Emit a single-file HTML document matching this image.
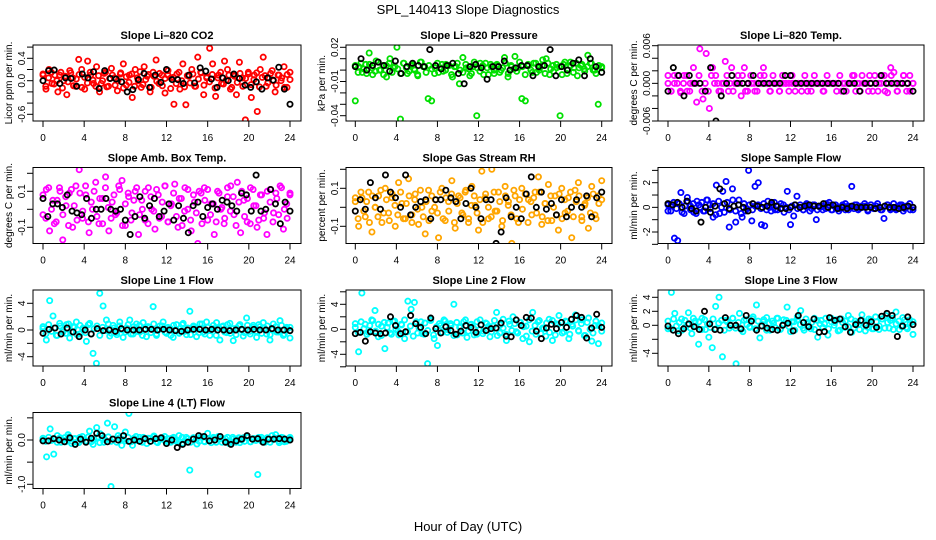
<!DOCTYPE html>
<html><head><meta charset="utf-8">
<style>
html,body{margin:0;padding:0;background:#fff;}
svg{display:block;font-family:"Liberation Sans",sans-serif;}
</style></head>
<body>
<svg id="chart" width="936" height="540" viewBox="0 0 936 540" xmlns="http://www.w3.org/2000/svg">
<text x="468" y="14" text-anchor="middle" font-size="13">SPL_140413  Slope Diagnostics</text>
<text x="468" y="531" text-anchor="middle" font-size="13">Hour of Day (UTC)</text>
</svg>
<script>
const xTicks = [0,4,8,12,16,20,24];
const co2Vals = [0.1,-0.15,0.2,-0.05,0.1,-0.2,0.15,0.0,-0.25,0.18,0.05,-0.1,0.38,0.2,-0.15,0.35,0.1,-0.05,0.25,-0.2,0.0,0.15,-0.1,0.22,0.05,-0.18,0.12,0.3,-0.08,0.1,-0.3,0.2,0.0,-0.12,0.25,0.08,-0.2,0.15,0.37,-0.05,0.1,-0.22,0.18,0.05,-0.42,0.12,-0.15,0.3,-0.43,0.08,0.2,-0.1,0.42,0.15,-0.25,0.05,0.58,0.3,-0.28,0.1,-0.05,0.35,0.2,-0.15,0.1,-0.25,0.33,0.05,-0.7,0.15,-0.3,0.1,-0.55,0.2,0.42,-0.1,0.05,0.18,-0.2,0.1,0.0,0.25,-0.12,0.15];
const co2Core = [0.12,-0.1,0.05,0.15,-0.06,0.0,0.1,-0.13,0.08,-0.02,0.14,-0.09,0.03,0.11,-0.12,0.06,-0.04,0.15,0.01,-0.1,0.09,-0.05,0.13,-0.11,0.04,0.1,-0.08,0.0,0.14,-0.13,0.07,-0.03,0.12,-0.1,0.05,0.16,-0.07,0.02,0.11,-0.12,0.08,-0.01,0.13,-0.09,0.04,0.1,-0.14,0.06,-0.05,0.15,0.0,-0.11,0.09,-0.04,0.12,-0.1,0.03,0.14,-0.08,0.07,-0.02,0.11,-0.13,0.05,0.15,-0.06,0.01,0.1,-0.12,0.08,-0.03,0.13,-0.1,0.04,0.12,-0.07,0.02,0.14,-0.11,0.06,0.09,-0.04,0.13,0.0,-0.08,0.1,0.05,-0.12,0.11,0.02];
const co2Ref = [0.0,0.18,0.19,-0.05,0.05,0.04,-0.1,0.12,0.05,0.16,-0.14,0.18,0.04,0.03,-0.02,-0.2,-0.16,0.02,0.13,-0.12,0.1,-0.03,0.2,0.02,0.02,-0.05,0.1,-0.04,0.23,0.17,0.03,-0.12,0.05,0.0,0.12,0.04,-0.08,-0.12,-0.02,-0.15,0.05,0.01,0.24,-0.15,-0.42];
const presVals = [-0.027,0.003,-0.002,0.005,0.015,-0.004,0.008,0.0,0.004,-0.006,0.01,0.002,0.02,-0.043,0.006,-0.003,0.004,0.001,-0.005,0.007,0.003,-0.025,-0.027,0.002,-0.002,0.005,0.0,0.004,-0.006,0.003,-0.012,0.011,0.002,-0.005,0.003,-0.04,0.006,-0.004,0.002,0.005,-0.003,0.004,0.0,0.011,-0.006,0.003,0.012,0.002,-0.025,-0.027,0.004,-0.002,0.006,0.0,0.009,0.01,-0.004,0.004,0.002,-0.04,0.005,-0.003,0.007,0.002,-0.005,0.004,0.001,0.013,0.006,0.0,-0.03,0.003];
const presCore = [0.004,-0.002,0.006,0.001,-0.003,0.005,0.002,-0.001,0.007,0.0,-0.004,0.004,0.006,-0.002,0.003,0.001,-0.003,0.006,0.002,-0.001,0.005,0.0,-0.004,0.007,0.003,-0.002,0.004,0.001,-0.003,0.006,0.002,-0.001,0.005,0.004,-0.004,0.003,0.006,0.0,-0.002,0.005,0.001,-0.003,0.007,0.002,-0.001,0.004,0.006,-0.004,0.003,0.0,0.005,-0.002,0.002,0.006,-0.003,0.004,0.001,-0.001,0.007,0.003,-0.004,0.005,0.0,0.006,-0.002,0.002,0.004,-0.003,0.006,0.001,-0.001,0.005,0.003,-0.004,0.007,0.0,0.004,-0.002,0.006,0.002,0.005,-0.001,0.003,0.006,0.0,-0.003,0.004,0.002];
const presRef = [0.003,0.01,0.0,0.004,0.007,0.004,-0.001,0.008,-0.003,0.003,0.006,0.004,0.003,0.018,0.004,0.001,0.004,0.006,-0.003,-0.012,0.003,0.005,0.002,-0.008,0.003,0.003,0.008,0.0,0.002,0.004,0.004,-0.005,0.003,0.004,0.018,-0.005,0.003,0.0,0.006,0.009,-0.005,0.01,0.003,-0.002];
const tempVals = [0.00125,-0.00125,0.0,0.00125,-0.0015,0.00125,-0.00125,0.0,0.0025,-0.003,0.0055,-0.0025,0.00475,-0.004,0.0025,0.00125,-0.00125,0.0,0.0035,-0.00125,0.0025,0.0,0.00125,-0.002,0.0025,-0.00125,0.00125,0.0,-0.00125,0.00125,0.0025,0.0,-0.00125,0.00125,0.0,-0.00125,0.00125,0.0,-0.00125,0.00125,0.0,0.0,-0.00125,0.00125,0.0,-0.00125,0.00125,0.0,0.0,-0.00125,0.00125,0.0,0.0,-0.00125,0.00125,0.0,-0.00125,0.0,0.00125,-0.00125,0.0,0.00125,0.0,-0.00125,0.0,0.00125,-0.00125,0.0,0.00125,-0.0015,0.0025,0.00175,-0.00125,0.0,0.00125,-0.00125,0.00125,0.0];
const tempCore = [0.0,-0.00125,0.00125,0.0,-0.00125,0.0,0.00125,-0.00125,0.0,0.0,0.00125,-0.00125,0.0,-0.00125,0.00125,0.0,0.0,-0.00125,0.0,0.00125,0.0,-0.00125,0.0,0.0,0.00125,-0.00125,0.0,0.0,-0.00125,0.0,0.0,0.00125,0.0,-0.00125,0.0,0.0,-0.00125,0.0,0.0,0.0,0.0,-0.00125,0.0,0.0,0.0,-0.00125,0.0,0.0,0.0,0.0,-0.00125,0.0,0.0,0.0,0.0,0.0,-0.00125,0.0,0.0,0.0,0.00125,0.0,-0.00125,0.0,0.0,0.00125,-0.00125,0.0,0.0,0.00125,-0.00125,0.0,0.00125,0.0,-0.00125,0.0,0.00125,0.0,-0.00125,0.0];
const tempRef = [-0.00125,0.0025,0.00125,-0.002,0.00125,0.0,0.0,-0.00125,0.0025,-0.006,-0.002,0.0,0.00125,0.0,0.0,0.0,0.00125,0.0,0.0,0.0,0.0,0.0,0.00125,0.00125,0.0,0.0,0.0,0.0,0.0,0.0,0.0,0.0,0.0,-0.00125,0.0,0.0,-0.00125,0.0,0.0,0.0,0.00125,0.0,0.0,0.0,0.0,0.0,-0.00125];
const ambVals = [-0.03,0.11,-0.12,0.05,-0.07,0.12,-0.17,0.02,0.09,-0.1,0.13,0.22,-0.05,0.08,-0.13,0.0,0.15,-0.08,0.06,0.18,-0.12,0.04,-0.03,0.13,0.16,-0.09,0.07,-0.02,0.1,-0.14,0.05,-0.06,0.12,0.0,-0.11,0.08,-0.04,0.13,-0.07,0.03,0.14,-0.1,0.06,-0.01,0.11,-0.12,0.04,-0.19,0.09,0.12,-0.06,0.03,-0.14,0.1,0.0,-0.08,0.07,0.13,-0.03,0.15,-0.13,0.05,-0.07,0.12,0.02,-0.1,0.08,-0.05,-0.14,0.11,-0.02,0.06,0.13,-0.11,0.03,0.09];
const ambCore = [0.08,-0.05,0.12,0.0,-0.08,0.05,0.1,-0.03,0.07,-0.09,0.11,0.02,-0.06,0.09,-0.01,0.13,-0.07,0.04,0.1,-0.04,0.06,-0.08,0.12,0.01,-0.05,0.08,-0.02,0.11,-0.09,0.03,0.09,-0.06,0.05,0.12,-0.03,0.0,0.1,-0.08,0.07,-0.01,0.11,-0.05,0.04,0.13,-0.07,0.02,0.09,-0.04,0.06,-0.09,0.12,0.0,-0.06,0.08,-0.02,0.1,-0.08,0.05,0.11,-0.03,0.03,-0.07,0.09,0.01,-0.05,0.12,-0.01,0.07,-0.09,0.04,0.1,-0.04,0.06,-0.08,0.11,0.02,-0.06,0.08,-0.02,0.1,0.04,-0.07,0.09,-0.03,0.12,0.0,-0.05,0.08];
const ambRef = [0.06,-0.04,0.03,0.03,0.01,0.08,-0.01,-0.02,-0.03,0.06,-0.05,0.0,0.0,0.06,0.0,-0.01,0.0,-0.06,-0.14,-0.04,0.07,-0.05,0.02,0.06,-0.04,-0.01,0.03,-0.06,0.02,-0.05,-0.13,0.02,0.04,-0.04,0.01,0.03,0.0,0.05,0.04,0.02,-0.01,0.09,0.08,-0.01,0.19,-0.01,0.0,0.11,0.03,-0.08,0.04,-0.01];
const rhVals = [0.03,-0.1,0.05,-0.05,0.08,-0.13,0.0,0.06,-0.08,0.1,-0.03,0.05,-0.1,0.13,0.02,-0.06,0.15,-0.04,0.07,-0.09,0.0,-0.14,0.09,-0.02,0.04,-0.16,0.1,-0.07,0.03,0.14,-0.11,0.06,-0.03,0.08,-0.08,0.11,0.01,-0.12,0.19,0.05,-0.06,0.2,-0.02,0.08,-0.1,0.11,0.03,-0.19,0.06,-0.08,0.1,-0.21,0.04,-0.04,0.08,0.16,-0.09,0.02,0.12,-0.07,0.06,-0.12,0.1,-0.03,0.05,-0.16,0.09,0.13,-0.05,0.02,-0.11,0.11,-0.04,0.06,0.14];
const rhCore = [0.05,-0.06,0.08,-0.02,0.03,-0.08,0.06,0.0,-0.05,0.09,-0.03,0.04,-0.07,0.07,0.01,-0.04,0.08,-0.06,0.02,0.06,-0.08,0.04,-0.01,0.09,-0.05,0.03,-0.07,0.06,0.0,-0.03,0.08,-0.06,0.05,-0.02,0.07,-0.08,0.02,0.05,-0.04,0.09,-0.06,0.01,0.06,-0.03,0.04,-0.08,0.07,0.0,-0.05,0.08,-0.02,0.03,-0.07,0.06,0.01,-0.04,0.09,-0.06,0.04,-0.01,0.07,-0.08,0.03,0.05,-0.03,0.08,-0.05,0.02,-0.07,0.06,0.0,-0.04,0.07,-0.06,0.04,-0.02,0.08,-0.05,0.03,0.06,-0.07,0.01,0.05,-0.03,0.07,-0.06,0.02,0.04];
const rhRef = [-0.02,0.04,-0.01,0.13,0.05,-0.01,0.17,0.08,0.05,0.0,0.17,-0.04,0.0,0.03,0.04,-0.06,0.04,0.04,0.09,0.05,0.03,-0.06,0.02,0.1,0.0,-0.06,0.04,0.04,-0.19,-0.13,0.05,-0.05,0.0,-0.06,0.07,0.16,0.0,0.08,-0.01,0.02,-0.04,0.04,-0.05,0.0,0.04,0.0,0.06,-0.05,0.05,0.08];
const sampVals = [-0.3,0.2,-2.5,-2.7,1.2,-0.5,0.8,0.1,-0.4,0.5,0.0,-0.3,0.6,0.2,-0.8,1.8,-0.5,1.3,2.1,-1.6,1.5,-1.2,0.6,-0.8,-0.3,3.0,-1.1,1.7,2.0,-1.4,-1.5,0.5,-0.3,0.4,-0.2,0.3,-0.4,1.3,-1.4,-0.7,0.9,0.2,-0.2,0.3,-0.3,0.2,-1.0,0.1,-0.2,0.3,0.4,-0.2,0.2,-0.3,0.1,0.3,-0.2,1.7,0.2,-0.2,0.1,0.3,-0.3,0.2,-0.1,0.3,-0.2,-0.9,0.2,-0.2,0.3,-0.1,0.2,-0.3,0.1,0.3,-0.2];
const sampCore = [0.2,-0.3,0.4,-0.1,0.3,-0.4,0.1,0.5,-0.2,0.3,-0.5,0.2,0.4,-0.3,0.6,-0.1,0.3,-0.6,0.5,0.0,-0.4,0.4,-0.2,0.6,-0.3,0.2,-0.5,0.3,-0.1,0.2,-0.2,0.1,0.2,-0.1,0.3,-0.2,0.0,0.2,-0.2,0.1,-0.1,0.2,0.0,-0.2,0.1,0.2,-0.1,0.0,-0.2,0.2,0.1,-0.1,0.2,-0.2,0.0,0.1,-0.1,0.2,-0.2,0.1,0.0,-0.1,0.2,-0.2,0.1,0.0,-0.1,0.2,-0.1,0.0,0.1,-0.2,0.2,-0.1,0.1,0.0,-0.2,0.1,0.2,-0.1,0.0,-0.2,0.1,0.2,-0.1,0.1,-0.2,0.0];
const sampRef = [0.3,0.2,0.4,0.0,0.5,-0.1,-0.3,-1.2,0.0,-0.4,0.1,1.5,0.3,-0.1,0.1,0.2,0.0,-0.3,0.3,0.1,0.0,0.1,0.4,0.1,-0.1,-0.1,0.0,0.2,0.0,0.1,0.2,0.1,0.1,0.3,0.0,0.2,-0.1,0.0,-0.1,0.1,0.0,0.0,0.0,0.0,-0.1,0.0,0.1,0.0,0.0,-0.1,0.0,0.1,0.0];
const l1Vals = [0.2,-1.5,4.4,2.1,-0.8,1.0,-0.3,0.8,-1.2,0.5,1.2,-0.6,0.3,-1.7,1.0,-3.5,-5.0,5.5,3.6,1.5,-0.9,0.7,-0.4,1.2,-1.1,0.3,1.5,-0.6,0.9,-0.3,1.1,-1.0,0.4,3.5,-0.8,0.6,1.2,-0.5,0.3,-1.1,0.8,-0.2,1.0,-0.7,2.8,0.4,-1.0,0.9,-0.3,1.2,-0.8,0.2,1.1,-1.5,0.6,-0.4,1.0,-1.6,0.3,0.8,-0.9,1.8,-0.2,0.7,-1.1,0.5,1.1,-0.6,-1.5,0.9,-0.3,1.4,-0.8,0.4,-1.2];
const l1Core = [0.5,-0.6,0.8,-0.2,0.3,-0.8,0.6,0.0,-0.5,0.9,-0.3,0.4,-0.7,0.7,0.1,-0.4,0.8,-0.6,0.2,0.6,-0.8,0.4,-0.1,0.9,-0.5,0.3,-0.7,0.6,0.0,-0.3,0.8,-0.6,0.5,-0.2,0.7,-0.8,0.2,0.5,-0.4,0.9,-0.6,0.1,0.6,-0.3,0.4,-0.8,0.7,0.0,-0.5,0.8,-0.2,0.3,-0.7,0.6,0.1,-0.4,0.9,-0.6,0.4,-0.1,0.7,-0.8,0.3,0.5,-0.3,0.8,-0.5,0.2,-0.7,0.6,0.0,-0.4,0.7,-0.6,0.4,-0.2,0.8,-0.5,0.3,0.6,-0.7,0.1,0.5,-0.3,0.7,-0.6,0.2,0.4];
const l1Ref = [-0.5,0.1,0.3,-0.6,0.3,-0.3,-1.0,0.0,-0.6,0.2,-0.1,0.0,-0.2,0.2,0.0,0.0,0.0,0.1,0.1,0.0,0.1,0.0,-0.1,-0.2,0.0,0.1,0.1,0.0,0.1,0.0,0.0,-0.1,0.0,0.1,0.0,0.1,0.0,0.0,0.2,0.0,0.0,-0.1];
const l2Vals = [0.3,-3.6,5.8,0.8,-0.5,1.5,3.0,-1.2,0.5,-3.1,1.0,-0.8,1.3,-0.3,0.8,-1.5,4.5,3.2,4.3,-0.6,1.2,-0.8,-5.5,1.6,-1.5,-2.6,0.6,1.5,-0.5,0.9,4.0,-0.9,0.4,1.2,-1.3,0.7,0.2,-0.8,1.5,-0.3,0.9,-1.2,0.5,2.7,-0.6,1.6,-1.8,0.8,2.0,-0.4,1.1,-1.5,0.5,-2.0,2.7,-0.8,1.4,0.2,-1.1,1.6,-1.8,0.9,2.2,-0.6,1.3,-1.5,0.8,2.3,-0.3,1.5,-1.0,1.8,-1.9,0.6,-2.3,1.0];
const l2Core = [0.9,-0.5,1.2,0.1,-0.8,0.6,1.4,-0.3,0.8,-1.0,1.1,0.3,-0.6,1.3,0.0,-0.9,0.7,1.5,-0.4,0.5,-1.1,1.2,0.2,-0.7,1.0,-0.2,1.4,-0.9,0.4,0.9,-0.5,1.3,-0.1,0.6,-1.0,1.1,0.3,-0.6,1.5,-0.3,0.8,-0.9,1.2,0.0,-0.7,1.0,0.5,-0.4,1.4,-1.0,0.7,0.2,-0.8,1.3,-0.2,0.9,-0.6,1.1,0.4,-1.1,1.5,-0.3,0.6,1.2,-0.7,0.1,1.0,-0.5,1.4,-0.9,0.8,0.3,-0.4,1.2,-0.8,0.5,1.5,-0.2,0.9,-1.0,1.1,0.0,-0.6,1.3,0.6,-0.3];
const l2Ref = [-0.7,-0.5,-1.9,-0.4,-0.6,-0.7,-0.6,2.0,0.6,-0.7,-0.4,2.2,0.9,0.3,-0.7,1.8,0.1,-0.6,0.4,-0.2,-0.8,-0.3,0.6,0.3,-0.5,0.7,-0.2,0.1,0.2,1.0,-1.1,-1.2,1.5,0.6,1.9,1.8,-0.3,-1.5,0.2,0.8,0.1,1.1,0.3,1.6,2.2,1.9,-1.4,0.2,2.4,0.3];
const l3Vals = [-0.5,4.7,1.7,-0.8,0.9,-0.3,1.8,-1.2,0.6,-2.7,1.0,-0.6,-1.7,-3.2,2.7,4.0,-4.5,0.7,-0.4,1.0,-5.5,1.7,-0.9,0.8,-0.3,1.2,2.9,-1.8,0.5,1.1,-0.7,0.3,1.0,-0.6,0.8,2.6,-0.9,0.5,1.2,2.1,-0.7,0.4,-0.5,1.0,-1.7,0.7,0.2,-1.4,1.0,0.4,-0.8,0.9,-0.3,1.4,-1.0,0.6,0.1,1.5,-0.8,0.9,-0.5,1.2,-0.6,0.9,1.4,-0.4,1.0,1.9,-0.6,1.1,-0.3,0.8,-1.3];
const l3Core = [0.6,-0.5,0.9,-0.1,0.4,-0.7,0.7,0.1,-0.4,1.0,-0.2,0.5,-0.6,0.8,0.2,-0.3,0.9,-0.5,0.3,0.7,-0.7,0.5,0.0,1.0,-0.4,0.4,-0.6,0.7,0.1,-0.2,0.9,-0.5,0.6,-0.1,0.8,-0.7,0.3,0.6,-0.3,1.0,-0.5,0.2,0.7,-0.2,0.5,-0.7,0.8,0.1,-0.4,0.9,-0.1,0.4,-0.6,0.7,0.2,-0.3,1.0,-0.5,0.5,0.0,0.8,-0.7,0.4,0.6,-0.2,0.9,-0.4,0.3,-0.6,0.7,0.1,-0.3,0.8,-0.5,0.5,-0.1,0.9,-0.4,0.4,0.7,-0.6,0.2,0.6,-0.2,0.8,-0.5,0.3,0.5];
const l3Ref = [-0.1,-0.7,-1.2,-0.5,0.2,-0.2,-0.6,2.0,0.2,-0.6,-0.7,1.1,0.0,0.0,-0.5,1.4,0.6,-0.7,-0.1,-0.4,-0.6,-0.7,0.0,0.3,-0.8,1.4,0.4,-0.2,0.9,-1.0,-0.9,1.1,0.7,0.9,-0.2,-1.0,0.1,0.7,0.0,0.5,-0.3,1.3,1.7,1.4,-1.6,-0.1,1.2,0.1];
const l4Vals = [0.0,-0.38,0.25,-0.32,0.1,-0.05,0.05,0.12,-0.08,0.03,-0.06,0.08,-0.02,0.2,-0.1,0.28,0.14,-0.05,0.38,-1.05,0.3,0.1,-0.12,0.18,0.6,-0.12,0.08,-0.03,0.06,-0.08,0.04,0.09,-0.06,0.02,0.08,-0.05,0.04,-0.02,0.1,-0.07,0.06,-0.68,0.05,-0.09,0.07,-0.03,0.15,-0.06,0.05,0.08,-0.05,0.03,-0.08,0.06,0.02,-0.06,0.05,0.08,-0.04,0.03,-0.78,0.06,-0.05,0.04,0.1,0.12,-0.06,0.05,-0.03,0.06];
const l4Core = [0.04,-0.03,0.06,-0.01,0.02,-0.05,0.05,0.0,-0.04,0.07,-0.02,0.03,-0.05,0.06,0.01,-0.03,0.07,-0.04,0.02,0.05,-0.06,0.03,0.0,0.07,-0.03,0.02,-0.05,0.05,0.01,-0.02,0.06,-0.04,0.04,-0.01,0.06,-0.05,0.02,0.04,-0.03,0.07,-0.04,0.01,0.05,-0.02,0.03,-0.05,0.06,0.0,-0.03,0.06,-0.01,0.03,-0.05,0.05,0.01,-0.03,0.07,-0.04,0.03,0.0,0.06,-0.05,0.02,0.04,-0.02,0.06,-0.03,0.02,-0.05,0.05,0.0,-0.03,0.06,-0.04,0.03,-0.01,0.06,-0.03,0.02,0.05,-0.05,0.01,0.04,-0.02,0.06,-0.04,0.02,0.03];
const l4Ref = [-0.02,-0.02,0.03,0.0,-0.04,0.05,-0.1,0.02,-0.05,0.04,0.15,0.1,-0.04,0.02,0.0,0.1,-0.03,0.0,-0.03,0.03,-0.03,0.03,0.05,-0.08,0.0,-0.17,-0.1,-0.05,0.02,0.1,0.08,-0.02,0.0,0.08,-0.05,-0.1,-0.02,0.02,0.1,0.02,0.03,-0.05,0.02,0.02,0.03,0.02,0.0];

const colX0=[43,355.3,668], colX24=[290,601.7,913], boxL=[33,346,658], boxR=[301,612,924];
const rowTop=[45,167.5,290,412.5], boxH=76;
const panels=[
 {name:'co2',title:'Slope Li\u2013820 CO2',yl:'Licor ppm per min.',c:0,r:0,v0:0.4,p0:58.3,v1:-0.6,p1:114.3,ticks:[0.6,0.4,0.2,0,-0.2,-0.4,-0.6],labs:['0.4','0.0','-0.6'],labv:[0.4,0,-0.6],col:'#ff0000',d:co2Vals,core:co2Core,k:co2Ref},
 {name:'pressure',title:'Slope Li\u2013820 Pressure',yl:'kPa per min.',c:1,r:0,v0:0.02,p0:47.3,v1:-0.04,p1:115.7,ticks:[0.02,0.01,0,-0.01,-0.02,-0.03,-0.04],labs:['0.02','-0.01','-0.04'],labv:[0.02,-0.01,-0.04],col:'#00e000',d:presVals,core:presCore,k:presRef},
 {name:'temp',title:'Slope Li\u2013820 Temp.',yl:'degrees C per min.',c:2,r:0,v0:0.006,p0:45.7,v1:-0.006,p1:121,ticks:[0.006,0.004,0.002,0,-0.002,-0.004,-0.006],labs:['0.006','0.000','-0.006'],labv:[0.006,0,-0.006],col:'#ff00ff',d:tempVals,core:tempCore,k:tempRef},
 {name:'amb-box-temp',title:'Slope Amb. Box Temp.',yl:'degrees C per min.',c:0,r:1,v0:0.1,p0:191.3,v1:-0.1,p1:227.3,ticks:[0.2,0.1,0,-0.1],labs:['0.1','-0.1'],labv:[0.1,-0.1],col:'#ff00ff',d:ambVals,core:ambCore,k:ambRef},
 {name:'gas-stream-rh',title:'Slope Gas Stream RH',yl:'percent per min.',c:1,r:1,v0:0.1,p0:188.3,v1:-0.1,p1:226.3,ticks:[0.2,0.1,0,-0.1],labs:['0.1','-0.1'],labv:[0.1,-0.1],col:'#ffa500',d:rhVals,core:rhCore,k:rhRef},
 {name:'sample-flow',title:'Slope Sample Flow',yl:'ml/min per min.',c:2,r:1,v0:2,p0:182.7,v1:-2,p1:232,ticks:[3,2,1,0,-1,-2,-3],labs:['2','0','-2'],labv:[2,0,-2],col:'#0000ff',d:sampVals,core:sampCore,k:sampRef},
 {name:'line1-flow',title:'Slope Line 1 Flow',yl:'ml/min per min.',c:0,r:2,v0:4,p0:303.3,v1:-4,p1:356.7,ticks:[4,2,0,-2,-4],labs:['4','0','-4'],labv:[4,0,-4],col:'#00ffff',d:l1Vals,core:l1Core,k:l1Ref},
 {name:'line2-flow',title:'Slope Line 2 Flow',yl:'ml/min per min.',c:1,r:2,v0:4,p0:304.3,v1:-4,p1:354.3,ticks:[6,4,2,0,-2,-4,-6],labs:['4','0','-4'],labv:[4,0,-4],col:'#00ffff',d:l2Vals,core:l2Core,k:l2Ref},
 {name:'line3-flow',title:'Slope Line 3 Flow',yl:'ml/min per min.',c:2,r:2,v0:4,p0:297.3,v1:-4,p1:353.3,ticks:[4,2,0,-2,-4],labs:['4','2','0','-4'],labv:[4,2,0,-4],col:'#00ffff',d:l3Vals,core:l3Core,k:l3Ref},
 {name:'line4-flow',title:'Slope Line 4 (LT) Flow',yl:'ml/min per min.',c:0,r:3,v0:0,p0:440,v1:-1,p1:484.3,ticks:[0.5,0,-0.5,-1],labs:['0.0','-1.0'],labv:[0,-1],col:'#00ffff',d:l4Vals,core:l4Core,k:l4Ref}
];
const NS='http://www.w3.org/2000/svg';
const svg=document.getElementById('chart');
function mk(tag,parent,attrs){const e=document.createElementNS(NS,tag);for(const a in attrs)e.setAttribute(a,attrs[a]);parent.appendChild(e);return e;}
panels.forEach(p=>{
  const g=mk('g',svg,{});
  
  
  const top=rowTop[p.r], bot=top+boxH, L=boxL[p.c], R=boxR[p.c];
  const xs=t=>colX0[p.c]+t*(colX24[p.c]-colX0[p.c])/24;
  const ys=v=>p.p0+(v-p.v0)*(p.p1-p.p0)/(p.v1-p.v0);
  const cx=(L+R)/2;
  const ti=mk('text',g,{x:cx,y:top-6,'text-anchor':'middle','font-size':'11','font-weight':'bold'});
  ti.textContent=p.title;
  
  
  const clip=mk('clipPath',g,{id:'clip-'+p.name});
  mk('rect',clip,{x:L,y:top,width:R-L,height:boxH});
  const pts=mk('g',g,{'clip-path':'url(#clip-'+p.name+')'});
  const nc=p.core.length;
  p.core.forEach((v,i)=>{
    const c=mk('circle',pts,{cx:xs(i*24/(nc-1)),cy:ys(v),r:2.6,fill:'none',stroke:p.col,'stroke-width':1.8});
    
    
  });
  const n=p.d.length;
  p.d.forEach((v,i)=>{
    const c=mk('circle',pts,{cx:xs(i*24/(n-1)),cy:ys(v),r:2.6,fill:'none',stroke:p.col,'stroke-width':1.8});
    
    
  });
  const m=p.k.length;
  p.k.forEach((v,i)=>{
    const c=mk('circle',pts,{cx:xs(i*24/(m-1)),cy:ys(v),r:2.6,fill:'none',stroke:'#000','stroke-width':1.8});
    
    
  });
  const box=mk('rect',g,{x:L,y:top,width:R-L,height:boxH,fill:'none',stroke:'#000','stroke-width':1});
  
  
  xTicks.forEach(t=>{
    mk('line',g,{x1:xs(t),x2:xs(t),y1:bot,y2:bot+6,stroke:'#000'});
    const tl=mk('text',g,{x:xs(t),y:bot+20,'text-anchor':'middle','font-size':'10'});
    tl.textContent=t;
    
    
  });
  p.ticks.forEach(v=>{ mk('line',g,{x1:L,x2:L-6,y1:ys(v),y2:ys(v),stroke:'#000'}); });
  p.labs.forEach((s,i)=>{
    const y=ys(p.labv[i]), x=L-8;
    const tl=mk('text',g,{x:x,y:y,'text-anchor':'middle','font-size':'10',transform:'rotate(-90 '+x+' '+y+')'});
    tl.textContent=s;
    
    
  });
  const yx=L-21, yy=top+boxH/2;
  const yt=mk('text',g,{x:yx,y:yy,'text-anchor':'middle','font-size':'10',transform:'rotate(-90 '+yx+' '+yy+')'});
  yt.textContent=p.yl;
  
  
});
</script>
</body></html>
